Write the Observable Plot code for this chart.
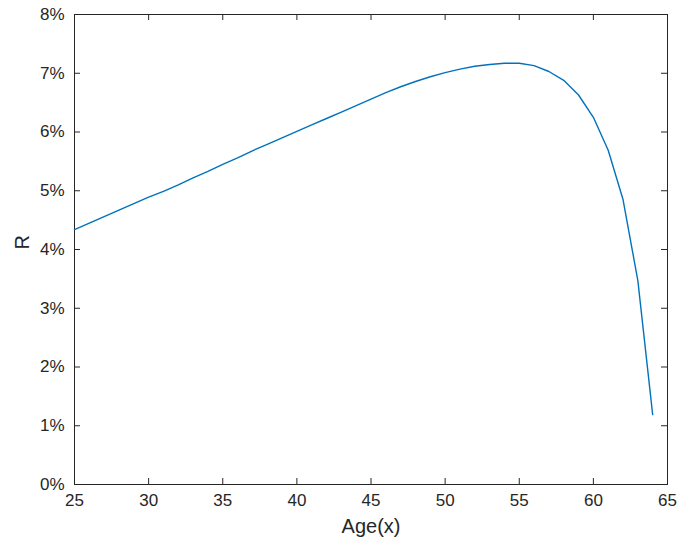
<!DOCTYPE html>
<html>
<head>
<meta charset="utf-8">
<script src="https://cdn.jsdelivr.net/npm/d3@7"></script>
<script src="https://cdn.jsdelivr.net/npm/@observablehq/plot@0.6"></script>
<style>
  html, body { margin: 0; padding: 0; background: #fff; }
</style>
</head>
<body>
<div id="chart"></div>
<script>
const ages = [25,26,27,28,29,30,31,32,33,34,35,36,37,38,39,40,41,42,43,44,45,46,47,48,49,50,51,52,53,54,55,56,57,58,59,60,61,62,63,64];
const rValues = [4.34,4.45,4.56,4.67,4.78,4.89,4.99,5.10,5.22,5.33,5.45,5.56,5.68,5.79,5.90,6.01,6.12,6.23,6.34,6.45,6.56,6.67,6.77,6.86,6.94,7.01,7.07,7.12,7.15,7.17,7.17,7.13,7.03,6.88,6.63,6.25,5.69,4.85,3.47,1.19];
const xTicks = [25,30,35,40,45,50,55,60,65];
const yTicks = [0,1,2,3,4,5,6,7,8];
const xLabel = "Age(x)";
const yLabel = "R";

const data = ages.map((a, i) => ({age: a, r: rValues[i]}));
const W = 679, H = 545;
const mL = 74, mR = 12, mT = 14, mB = 61;
const tickLen = 6;
const axisColor = "#262626";

const chart = Plot.plot({
  width: W,
  height: H,
  marginLeft: mL,
  marginRight: mR,
  marginTop: mT,
  marginBottom: mB,
  style: {fontFamily: "'Liberation Sans', Arial, Helvetica, sans-serif", fontSize: "17px", color: axisColor, background: "#fff"},
  x: {domain: [25, 65], ticks: xTicks},
  y: {domain: [0, 8], ticks: yTicks},
  marks: [
    Plot.axisX(xTicks, {tickSize: 0, tickPadding: 9, label: null, fontSize: 17, fill: axisColor}),
    Plot.axisY(yTicks, {tickSize: 0, tickPadding: 10, label: null, tickFormat: d => d + "%", fontSize: 17, fill: axisColor}),
    // inward ticks: bottom, top
    Plot.ruleX(xTicks, {x: d => d, stroke: axisColor, insetTop: H - mT - mB - tickLen}),
    Plot.ruleX(xTicks, {x: d => d, stroke: axisColor, insetBottom: H - mT - mB - tickLen}),
    // inward ticks: left, right
    Plot.ruleY(yTicks, {y: d => d, stroke: axisColor, insetRight: W - mL - mR - tickLen}),
    Plot.ruleY(yTicks, {y: d => d, stroke: axisColor, insetLeft: W - mL - mR - tickLen}),
    Plot.frame({stroke: axisColor, strokeWidth: 1}),
    Plot.line(data, {x: "age", y: "r", stroke: "#0072BD", strokeWidth: 1.4}),
    Plot.text([xLabel], {frameAnchor: "bottom", dy: 42, fontSize: 20, fill: axisColor, lineAnchor: "middle"}),
    Plot.text([yLabel], {frameAnchor: "left", dx: -52, rotate: -90, fontSize: 20, fill: axisColor, lineAnchor: "middle"})
  ]
});
document.getElementById("chart").appendChild(chart);
</script>
</body>
</html>
